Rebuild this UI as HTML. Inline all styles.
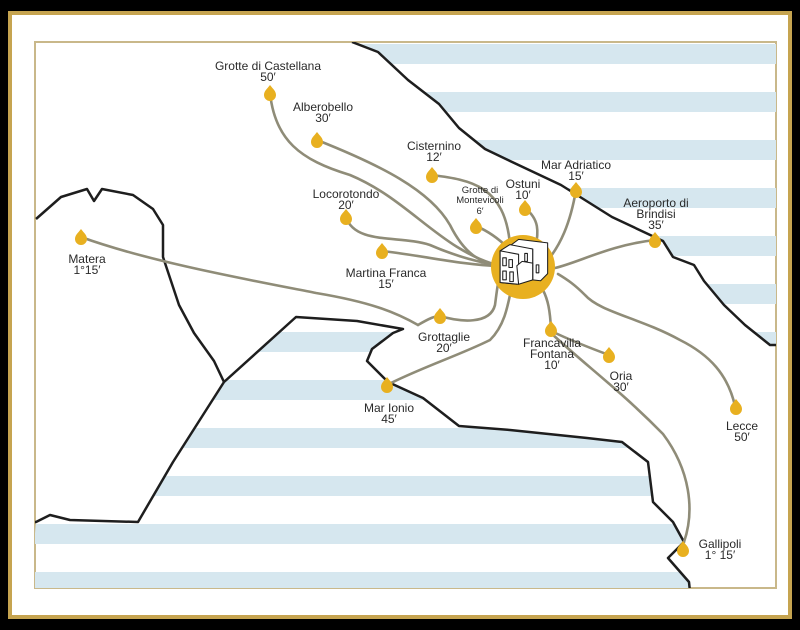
<!DOCTYPE html>
<html><head><meta charset="utf-8"><style>
html,body{margin:0;padding:0;background:#000;}
svg{display:block;}
text{font-family:"Liberation Sans Narrow","Liberation Sans",sans-serif;font-size:12px;fill:#2a2a2a;text-anchor:middle;}
.s{font-size:9.5px;}
</style></head><body>
<svg width="800" height="630" viewBox="0 0 800 630" xmlns="http://www.w3.org/2000/svg">
<defs>
<pattern id="st" patternUnits="userSpaceOnUse" x="0" y="44" width="800" height="48">
<rect x="0" y="0" width="800" height="20" fill="#d6e7ef"/>
</pattern>
<clipPath id="c"><rect x="35" y="42" width="741" height="546"/></clipPath>
<path id="pin" d="M0,-8 C3,-4 6,-2 6,2 A6,6 0 1 1 -6,2 C-6,-2 -3,-4 0,-8Z" fill="#e8b020"/>
</defs>
<rect x="0" y="0" width="800" height="630" fill="#000"/>
<rect x="10" y="13" width="780" height="604" fill="#fff" stroke="#c6a450" stroke-width="4"/>
<rect x="35" y="42" width="741" height="546" fill="#fff" stroke="#c9b88a" stroke-width="2"/>
<g clip-path="url(#c)">
<polygon fill="url(#st)" points="352,42 378,52 408,80 439,104 459,128 485,149 510,161 561,185 612,217 663,241 673,257 694,265 704,281 724,305 745,325 770,345 780,345 780,40"/>
<polygon fill="url(#st)" points="36,522 138,522 173,462 224,382 296,317 357,321 403,329 393,333 372,349 367,361 388,382 423,398 459,426 510,430 587,438 622,442 648,462 653,502 673,522 684,542 668,558 689,582 689,590 30,590"/>
<g fill="none" stroke="#1e1e1e" stroke-width="2.5" stroke-linejoin="round">
<polyline points="352,42 378,52 408,80 439,104 459,128 485,149 510,161 561,185 612,217 663,241 673,257 694,265 704,281 724,305 745,325 770,345 780,345"/>
<polyline points="30,522 36,522 50,515 70,520 138,522 173,462 224,382 296,317 357,321 403,329 393,333 372,349 367,361 388,382 423,398 459,426 510,430 587,438 622,442 648,462 653,502 673,522 684,542 668,558 689,582 690,592"/>
<polyline points="36,219 61,197 87,189 94,201 102,189 133,195 153,209 163,225 163,257 179,305 194,333 214,361 224,382"/>
</g>
</g>
<g fill="none" stroke="#8f8c78" stroke-width="2.6" stroke-linecap="round">
<path d="M270,93 C275,140 300,160 350,175 C410,200 440,250 500,266"/>
<path d="M317,140 C380,165 430,190 450,225 C465,255 480,262 500,266"/>
<path d="M432,175 C470,180 505,185 510,245"/>
<path d="M346,217 C355,245 400,235 430,245 C460,258 480,262 500,266"/>
<path d="M382,251 C420,255 460,265 500,266"/>
<path d="M476,226 C490,232 500,240 508,248"/>
<path d="M525,208 C540,220 538,232 536,245"/>
<path d="M576,190 C570,225 560,245 548,260"/>
<path d="M655,240 C610,245 580,262 555,268"/>
<path d="M81,237 C150,262 250,280 316,293 C370,302 395,312 418,325"/>
<path d="M418,325 C430,318 435,316 440,316 C460,322 490,325 495,305 C497,290 498,280 500,275"/>
<path d="M387,385 C420,368 460,355 490,340 C505,325 508,305 512,285"/>
<path d="M551,329 C550,310 548,300 543,290"/>
<path d="M609,355 C590,348 570,340 551,331"/>
<path d="M551,333 C585,365 620,390 663,434 C690,470 695,510 684,542"/>
<path d="M735,406 C728,375 710,355 680,340 C640,318 600,312 585,295 C575,285 568,280 558,274"/>
</g>
<circle cx="523" cy="267" r="32" fill="#e8b020"/>
<g stroke="#1e1e1e" stroke-width="1.2" fill="#fff" stroke-linejoin="round" transform="translate(523,264) scale(0.88) translate(-523,-264)">
<polygon points="510,242 518,236 551,240 551,275 543,283 534,282 534,247 510,244"/>
<polygon points="497,249 508,242 534,247 534,282 516,287 497,285"/>
<polygon points="497,249 518,253 518,287 497,285"/>
<polygon points="516,266 522,261 534,263 534,282 518,287"/>
<rect x="500" y="257" width="4" height="9"/><rect x="507" y="259" width="4" height="9"/>
<rect x="500" y="272" width="4" height="10"/><rect x="508" y="273" width="4" height="11"/>
<rect x="525" y="252" width="3" height="9"/><rect x="538" y="265" width="3" height="9"/>
</g>
<g>
<use href="#pin" x="270" y="93"/><use href="#pin" x="317" y="140"/><use href="#pin" x="432" y="175"/>
<use href="#pin" x="346" y="217"/><use href="#pin" x="382" y="251"/><use href="#pin" x="476" y="226"/>
<use href="#pin" x="525" y="208"/><use href="#pin" x="576" y="190"/><use href="#pin" x="655" y="240"/>
<use href="#pin" x="81" y="237"/><use href="#pin" x="440" y="316"/><use href="#pin" x="387" y="385"/>
<use href="#pin" x="551" y="329"/><use href="#pin" x="609" y="355"/><use href="#pin" x="736" y="407"/>
<use href="#pin" x="683" y="549"/>
</g>
<text x="268" y="70">Grotte di Castellana</text><text x="268" y="81">50′</text>
<text x="323" y="111">Alberobello</text><text x="323" y="122">30′</text>
<text x="434" y="150">Cisternino</text><text x="434" y="161">12′</text>
<text x="346" y="198">Locorotondo</text><text x="346" y="209">20′</text>
<text class="s" x="480" y="193">Grotte di</text><text class="s" x="480" y="203">Montevicoli</text><text class="s" x="480" y="214">6′</text>
<text x="523" y="188">Ostuni</text><text x="523" y="199">10′</text>
<text x="576" y="169">Mar Adriatico</text><text x="576" y="180">15′</text>
<text x="656" y="207">Aeroporto di</text><text x="656" y="218">Brindisi</text><text x="656" y="229">35′</text>
<text x="87" y="263">Matera</text><text x="87" y="274">1°15′</text>
<text x="386" y="277">Martina Franca</text><text x="386" y="288">15′</text>
<text x="444" y="341">Grottaglie</text><text x="444" y="352">20′</text>
<text x="552" y="347">Francavilla</text><text x="552" y="358">Fontana</text><text x="552" y="369">10′</text>
<text x="621" y="380">Oria</text><text x="621" y="391">30′</text>
<text x="389" y="412">Mar Ionio</text><text x="389" y="423">45′</text>
<text x="742" y="430">Lecce</text><text x="742" y="441">50′</text>
<text x="720" y="548">Gallipoli</text><text x="720" y="559">1° 15′</text>
</svg>
</body></html>
